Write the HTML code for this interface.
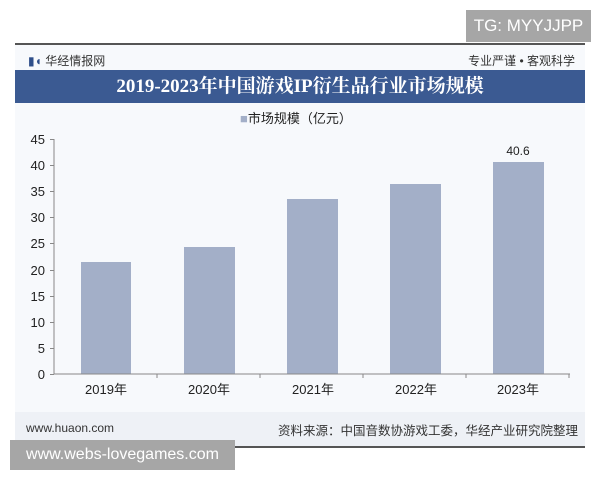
<!DOCTYPE html>
<html><head><meta charset="utf-8"><style>
body{margin:0;width:600px;height:480px;background:#fff;position:relative;overflow:hidden;font-family:"Liberation Sans","Noto Sans CJK SC",sans-serif}
.a{position:absolute}
</style></head><body>
<div class="a" style="left:466px;top:10px;width:125px;height:32px;background:#a6a6a6;color:#fff;font-size:17px;line-height:32px;text-align:center">TG: MYYJJPP</div>
<div class="a" style="left:15px;top:43px;width:570px;height:2px;background:#555"></div>
<div class="a" style="left:15px;top:45px;width:570px;height:403px;background:#f7f9fc"></div>
<div class="a" style="left:28px;top:52px;font-size:12px;color:#333"><span style="color:#2f4f8a">▮◖</span> 华经情报网</div>
<div class="a" style="right:25px;top:52px;font-size:12px;color:#333">专业严谨 • 客观科学</div>
<div class="a" style="left:15px;top:70px;width:570px;height:33px;background:#3b5a92;color:#fff;font-size:19px;font-weight:bold;line-height:33px;text-align:center;font-family:'Liberation Serif','Noto Serif CJK SC',serif">2019-2023年中国游戏IP衍生品行业市场规模</div>
<div class="a" style="left:240px;top:108px;font-size:13px;color:#222"><span style="color:#a3afc8">■</span>市场规模（亿元）</div>
<svg class="a" style="left:0;top:0" width="600" height="480">
<g fill="#a3afc8">
<rect x="81" y="262" width="50" height="112"/>
<rect x="184" y="247" width="51" height="127"/>
<rect x="287" y="199" width="51" height="175"/>
<rect x="390" y="184" width="51" height="190"/>
<rect x="493" y="162" width="51" height="212"/>
</g>
<g stroke="#888" stroke-width="1">
<line x1="54" y1="139" x2="54" y2="374"/>
<line x1="54" y1="374" x2="570" y2="374"/>
<path d="M50 139.5h4M50 165.5h4M50 191.5h4M50 217.5h4M50 243.5h4M50 270.5h4M50 296.5h4M50 322.5h4M50 348.5h4M50 374.5h4"/>
<path d="M157 374v4M260 374v4M363 374v4M466 374v4M569 374v4"/>
</g>
<g font-size="13" fill="#222" text-anchor="end" font-family="Liberation Sans,sans-serif">
<text x="45" y="144">45</text><text x="45" y="170">40</text><text x="45" y="196">35</text><text x="45" y="222">30</text><text x="45" y="248">25</text><text x="45" y="275">20</text><text x="45" y="301">15</text><text x="45" y="327">10</text><text x="45" y="353">5</text><text x="45" y="379">0</text>
</g>
<g font-size="13" fill="#222" text-anchor="middle" font-family="Liberation Sans,Noto Sans CJK SC,sans-serif">
<text x="106" y="394">2019年</text><text x="209" y="394">2020年</text><text x="313" y="394">2021年</text><text x="416" y="394">2022年</text><text x="518" y="394">2023年</text>
<text x="518" y="155" font-size="12">40.6</text>
</g>
</svg>
<div class="a" style="left:15px;top:412px;width:570px;height:34px;background:#eef1f6"></div>
<div class="a" style="left:26px;top:421px;font-size:12px;color:#333">www.huaon.com</div>
<div class="a" style="right:22px;top:420px;font-size:12.5px;color:#333">资料来源：中国音数协游戏工委，华经产业研究院整理</div>
<div class="a" style="left:15px;top:446px;width:570px;height:2px;background:#555"></div>
<div class="a" style="left:10px;top:440px;width:225px;height:30px;background:#a6a6a6;color:#fff;font-size:16px;line-height:30px;text-align:center">www.webs-lovegames.com</div>
</body></html>
